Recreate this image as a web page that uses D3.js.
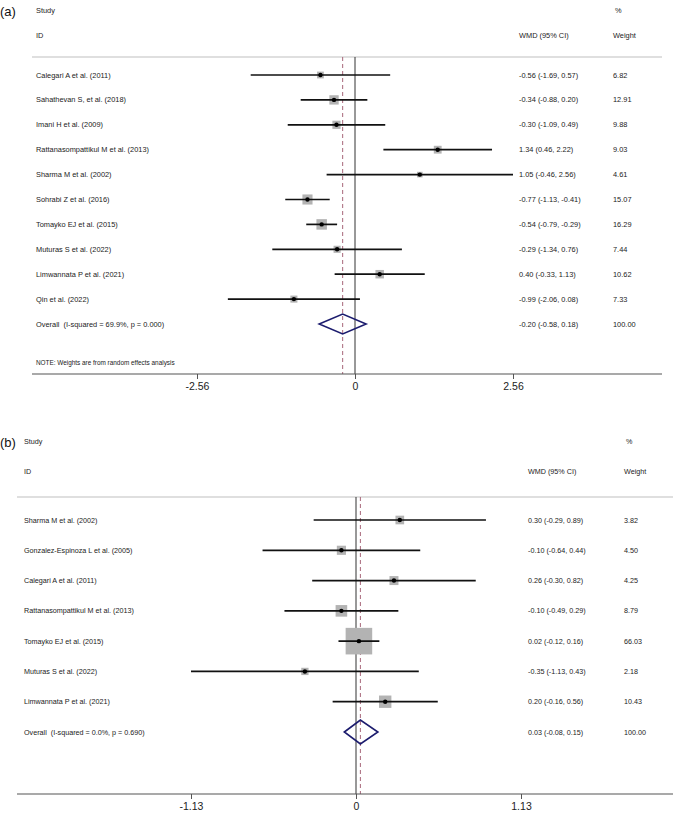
<!DOCTYPE html>
<html>
<head>
<meta charset="utf-8">
<script src="https://cdn.jsdelivr.net/npm/d3@7/dist/d3.min.js"></script>
<style>
  html, body { margin: 0; padding: 0; background: #fff; }
  svg { display: block; }
  text { font-family: "Liberation Sans", Arial, sans-serif; fill: #222; white-space: pre; }
</style>
</head>
<body>
<svg id="chart" width="679" height="814"></svg>
<script>
// ---------- Panel (a) data ----------
const studiesA = ["Calegari A et al. (2011)", "Sahathevan S, et al. (2018)", "Imani H et al. (2009)",
  "Rattanasompattikul M et al. (2013)", "Sharma M et al. (2002)", "Sohrabi Z et al. (2016)",
  "Tomayko EJ et al. (2015)", "Muturas S et al. (2022)", "Limwannata P et al. (2021)", "Qin et al. (2022)"];
const wmdA    = [-0.56, -0.34, -0.30, 1.34, 1.05, -0.77, -0.54, -0.29, 0.40, -0.99];
const lowA    = [-1.69, -0.88, -1.09, 0.46, -0.46, -1.13, -0.79, -1.34, -0.33, -2.06];
const highA   = [0.57, 0.20, 0.49, 2.22, 2.56, -0.41, -0.29, 0.76, 1.13, 0.08];
const weightA = [6.82, 12.91, 9.88, 9.03, 4.61, 15.07, 16.29, 7.44, 10.62, 7.33];
const overallA = [-0.20, -0.58, 0.18];  // estimate, low, high
const overallLabelA = "Overall  (I-squared = 69.9%, p = 0.000)";
const ticksA = [-2.56, 0, 2.56];
const tickLabelsA = ["-2.56", "0", "2.56"];

// ---------- Panel (b) data ----------
const studiesB = ["Sharma M et al. (2002)", "Gonzalez-Espinoza L et al. (2005)", "Calegari A et al. (2011)",
  "Rattanasompattikul M et al. (2013)", "Tomayko EJ et al. (2015)", "Muturas S et al. (2022)",
  "Limwannata P et al. (2021)"];
const wmdB    = [0.30, -0.10, 0.26, -0.10, 0.02, -0.35, 0.20];
const lowB    = [-0.29, -0.64, -0.30, -0.49, -0.12, -1.13, -0.16];
const highB   = [0.89, 0.44, 0.82, 0.29, 0.16, 0.43, 0.56];
const weightB = [3.82, 4.50, 4.25, 8.79, 66.03, 2.18, 10.43];
const overallB = [0.03, -0.08, 0.15];
const overallLabelB = "Overall  (I-squared = 0.0%, p = 0.690)";
const ticksB = [-1.13, 0, 1.13];
const tickLabelsB = ["-1.13", "0", "1.13"];

const headers = { study: "Study", id: "ID", est: "WMD (95% CI)", pct: "%", weight: "Weight" };
const noteA = "NOTE: Weights are from random effects analysis";

const svg = d3.select("#chart");
const fmt = v => v.toFixed(2);

function panel(cfg) {
  const g = svg.append("g");
  const n = cfg.studies.length;
  const x = d3.scaleLinear().domain([cfg.ticks[0], cfg.ticks[2]]).range(cfg.xr);
  const y = d3.scaleLinear().domain([0, n]).range(cfg.yr);
  const boxLin = d3.scaleLinear().domain([0, 10]).range([cfg.boxMin, cfg.boxMax]);
  const box = w => boxLin(Math.sqrt(w));
  const fs = cfg.fs;

  // panel letter
  g.append("text").attr("x", 0).attr("y", cfg.letterY).attr("dominant-baseline", "central")
    .style("font-size", "13px").style("fill", "#111").text(cfg.letter);

  // headers
  const hdr = (t, xx, yy) => g.append("text").attr("x", xx).attr("y", yy)
    .attr("dominant-baseline", "central").style("font-size", fs + "px").text(t);
  hdr(headers.study, cfg.textX, cfg.h1Y);
  hdr(headers.pct, cfg.pctX, cfg.h1Y);
  hdr(headers.id, cfg.textX, cfg.h2Y);
  hdr(headers.est, cfg.estX, cfg.h2Y);
  hdr(headers.weight, cfg.wX, cfg.h2Y);

  // separator line
  g.append("line").attr("x1", cfg.left).attr("x2", cfg.right)
    .attr("y1", cfg.sepY).attr("y2", cfg.sepY)
    .attr("stroke", "#d4d4d4").attr("stroke-width", 1.3);

  // null line
  g.append("line").attr("x1", x(0)).attr("x2", x(0))
    .attr("y1", cfg.sepY).attr("y2", cfg.axisY)
    .attr("stroke", "#333").attr("stroke-width", 1);
  // pooled dashed line
  g.append("line").attr("x1", x(cfg.overall[0])).attr("x2", x(cfg.overall[0]))
    .attr("y1", cfg.sepY).attr("y2", cfg.axisY)
    .attr("stroke", "#a8677a").attr("stroke-width", 1).attr("stroke-dasharray", "4,3");

  const idx = d3.range(n);
  // boxes
  g.selectAll(".box").data(idx).join("rect")
    .attr("x", i => x(cfg.est[i]) - box(cfg.weight[i]) / 2)
    .attr("y", i => y(i) - box(cfg.weight[i]) / 2)
    .attr("width", i => box(cfg.weight[i]))
    .attr("height", i => box(cfg.weight[i]))
    .attr("fill", "#b3b3b3");
  // CI lines
  g.selectAll(".ci").data(idx).join("line")
    .attr("x1", i => x(cfg.low[i])).attr("x2", i => x(cfg.high[i]))
    .attr("y1", i => y(i)).attr("y2", i => y(i))
    .attr("stroke", "#111").attr("stroke-width", 1.7);
  // points
  g.selectAll(".pt").data(idx).join("circle")
    .attr("cx", i => x(cfg.est[i])).attr("cy", i => y(i)).attr("r", 2.2)
    .attr("fill", "#000");

  // diamond
  const o = cfg.overall, yo = y(n), hh = cfg.dh;
  g.append("path")
    .attr("d", d3.line()([[x(o[1]), yo], [x(o[0]), yo - hh], [x(o[2]), yo], [x(o[0]), yo + hh], [x(o[1]), yo]]) + "Z")
    .attr("fill", "none").attr("stroke", "#1c1c6e").attr("stroke-width", 1.6);

  // row texts
  const rowText = (t, xx, i) => g.append("text").attr("x", xx).attr("y", y(i))
    .attr("dominant-baseline", "central").style("font-size", fs + "px").text(t);
  idx.forEach(i => {
    rowText(cfg.studies[i], cfg.textX, i);
    rowText(`${fmt(cfg.est[i])} (${fmt(cfg.low[i])}, ${fmt(cfg.high[i])})`, cfg.estX, i);
    rowText(fmt(cfg.weight[i]), cfg.wX, i);
  });
  rowText(cfg.overallLabel, cfg.textX, n);
  rowText(`${fmt(o[0])} (${fmt(o[1])}, ${fmt(o[2])})`, cfg.estX, n);
  rowText(fmt(100), cfg.wX, n);

  if (cfg.note) {
    g.append("text").attr("x", cfg.textX).attr("y", cfg.noteY).attr("dominant-baseline", "central")
      .style("font-size", "6.4px").text(cfg.note);
  }

  // axis
  const ax = g.append("g").attr("transform", `translate(0,${cfg.axisY})`)
    .call(d3.axisBottom(x).tickValues(cfg.ticks)
      .tickFormat((d, i) => cfg.tickLabels[i]).tickSize(5).tickSizeOuter(0).tickPadding(4));
  ax.select(".domain").remove();
  ax.selectAll(".tick line").attr("stroke", "#555");
  ax.selectAll(".tick text").style("font-size", "10.5px").style("font-family", "'Liberation Sans', Arial, sans-serif").attr("fill", "#222");
  g.append("line").attr("x1", cfg.left).attr("x2", cfg.right)
    .attr("y1", cfg.axisY).attr("y2", cfg.axisY)
    .attr("stroke", "#555").attr("stroke-width", 1.2);
}

panel({
  letter: "(a)", letterY: 11,
  studies: studiesA, est: wmdA, low: lowA, high: highA, weight: weightA,
  overall: overallA, overallLabel: overallLabelA,
  ticks: ticksA, tickLabels: tickLabelsA,
  xr: [197, 513], yr: [75, 324], boxMin: 0, boxMax: 26, dh: 10, fs: 7.4,
  textX: 36, estX: 519, wX: 613, pctX: 615, h1Y: 10, h2Y: 35,
  sepY: 57, axisY: 374, left: 32, right: 662,
  note: noteA, noteY: 362
});

panel({
  letter: "(b)", letterY: 442,
  studies: studiesB, est: wmdB, low: lowB, high: highB, weight: weightB,
  overall: overallB, overallLabel: overallLabelB,
  ticks: ticksB, tickLabels: tickLabelsB,
  xr: [191, 521], yr: [520, 732], boxMin: 3, boxMax: 32, dh: 12, fs: 7.2,
  textX: 24, estX: 528, wX: 624, pctX: 626, h1Y: 441, h2Y: 471,
  sepY: 497, axisY: 794, left: 17, right: 673,
  note: null
});
</script>
</body>
</html>
